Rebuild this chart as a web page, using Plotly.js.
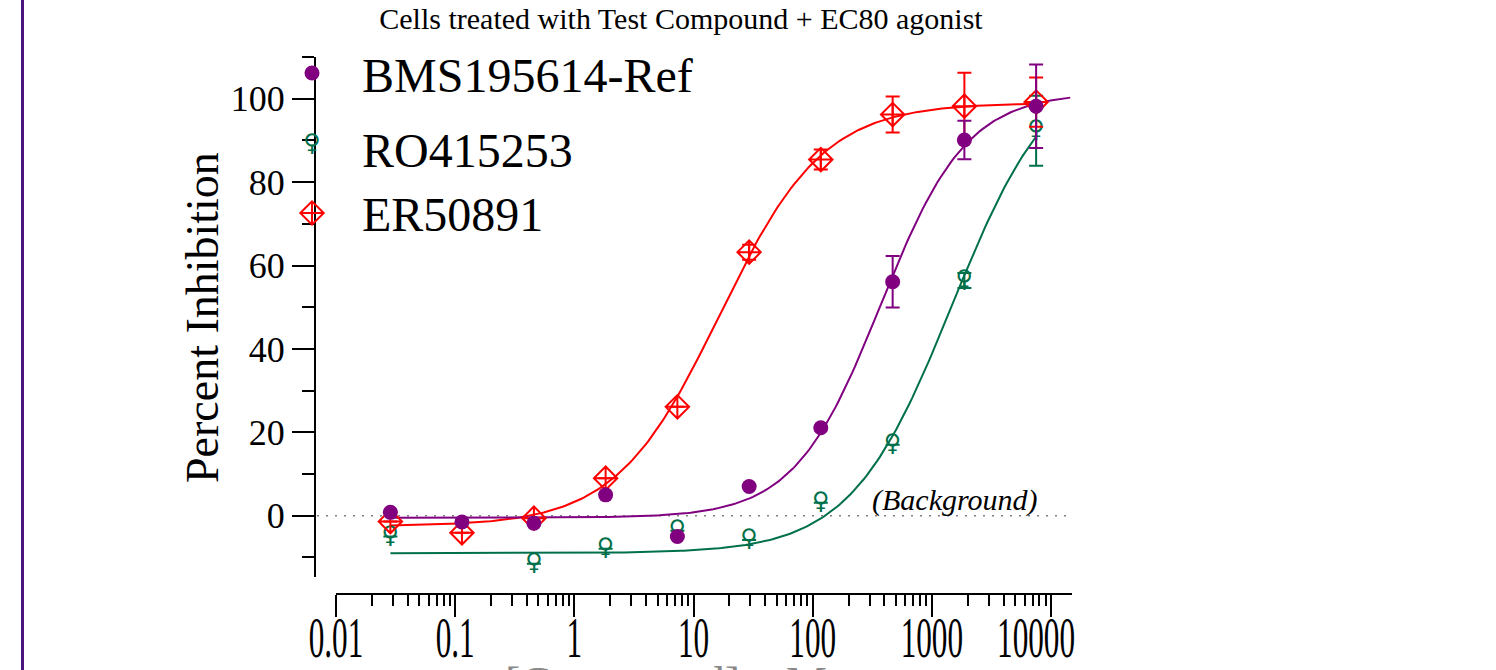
<!DOCTYPE html>
<html>
<head>
<meta charset="utf-8">
<script src="https://cdn.plot.ly/plotly-3.0.1.min.js"></script>
<style>
  html, body { margin: 0; padding: 0; background: #ffffff; }
  #chart { width: 1496px; height: 670px; }
</style>
</head>
<body>
<div id="chart"></div>
<script>
// Concentration-response data (4-fold dilution series, nM)
const concentrations = [0.0286, 0.114, 0.458, 1.83, 7.32, 29.3, 117, 469, 1875, 7500];

const bmsMean = [0.8, -1.5, -1.8, 5.0, -5.0, 7.0, 21.1, 56.1, 90.1, 98.2];
const bmsErr  = [null, null, null, null, null, null, null, 6.2, 4.6, 10.0];

const roConcentrations = [0.0286, 0.458, 1.83, 7.32, 29.3, 117, 469, 1875, 7500];
const roMean = [-5.0, -11.5, -7.9, -3.6, -5.8, 3.1, 17.0, 56.4, 92.3];
const roErr  = [null, null, null, null, null, null, null, 1.8, 8.4];

const erMean = [-1.4, -4.1, -0.6, 9.0, 26.1, 63.2, 85.4, 96.2, 98.2, 99.2];
const erErr  = [null, null, null, null, null, 1.8, 2.4, 4.3, 8.0, 5.9];

// Four-parameter logistic fits: [bottom, top, logEC50, hill]
const bmsFit = [-0.5, 101.5, 2.57, 1.2];
const roFit  = [-9.0, 110.0, 3.17, 1.02];
const erFit  = [-2.5, 99.0, 1.22, 1.0];

const seriesNames = ['BMS195614-Ref', 'RO415253', 'ER50891'];
const xTickVals = [0.01, 0.1, 1, 10, 100, 1000, 10000];
const xTickText = ['0.01', '0.1', '1', '10', '100', '1000', '10000'];
const yTickVals = [0, 20, 40, 60, 80, 100];
const yMinorVals = [-10, 10, 30, 50, 70, 90, 110];

const PURPLE = '#800080';
const GREEN = '#00704a';
const RED = '#ff0000';
const SERIF = 'Liberation Serif, Times New Roman, serif';

const W = 1496, H = 670;
const fx = p => p / W;
const fy = p => 1 - p / H;

function logistic(fit, x) {
  const [bottom, top, logEC50, hill] = fit;
  return bottom + (top - bottom) / (1 + Math.pow(10, (logEC50 - Math.log10(x)) * hill));
}
function fitCurve(fit, xMin, xMax) {
  const xs = [], ys = [];
  const a = Math.log10(xMin), b = Math.log10(xMax), n = 240;
  for (let i = 0; i <= n; i++) {
    const x = Math.pow(10, a + (b - a) * i / n);
    xs.push(x);
    ys.push(logistic(fit, x));
  }
  return { xs, ys };
}

const minorX = [];
for (let e = -2; e <= 4; e++) {
  for (let m = 2; m <= 9; m++) minorX.push(m * Math.pow(10, e));
}

const bmsCurve = fitCurve(bmsFit, concentrations[0], 14500);
const roCurve  = fitCurve(roFit, roConcentrations[0], roConcentrations[roConcentrations.length - 1]);
const erCurve  = fitCurve(erFit, concentrations[0], concentrations[concentrations.length - 1]);

const errStyle = (arr, color) => ({
  type: 'data', array: arr, visible: true, color: color, thickness: 2, width: 7
});

const traces = [
  { x: roCurve.xs, y: roCurve.ys, mode: 'lines', line: { color: GREEN, width: 2 }, hoverinfo: 'skip' },
  { x: erCurve.xs, y: erCurve.ys, mode: 'lines', line: { color: RED, width: 2 }, hoverinfo: 'skip' },
  { x: bmsCurve.xs, y: bmsCurve.ys, mode: 'lines', line: { color: PURPLE, width: 2 }, hoverinfo: 'skip' },
  {
    name: seriesNames[1], x: roConcentrations, y: roMean, mode: 'text',
    text: roConcentrations.map(() => '\u2640'), textposition: 'middle center',
    textfont: { family: 'DejaVu Sans', size: 24, color: GREEN },
    error_y: errStyle(roErr, GREEN), cliponaxis: false
  },
  {
    name: seriesNames[2], x: concentrations, y: erMean, mode: 'markers',
    marker: { symbol: 'diamond-cross-open', size: 18, color: RED, opacity: 1, line: { width: 2, color: RED } },
    error_y: errStyle(erErr, RED), cliponaxis: false
  },
  {
    name: seriesNames[0], x: concentrations, y: bmsMean, mode: 'markers',
    marker: { symbol: 'circle', size: 15, color: PURPLE, opacity: 1 },
    error_y: errStyle(bmsErr, PURPLE), cliponaxis: false
  },
  // legend swatches, drawn on a pixel-space overlay
  {
    x: [312], y: [73], xaxis: 'x2', yaxis: 'y2', mode: 'markers',
    marker: { symbol: 'circle', size: 15, color: PURPLE, opacity: 1 },
    cliponaxis: false, hoverinfo: 'skip'
  },
  {
    x: [312], y: [213], xaxis: 'x2', yaxis: 'y2', mode: 'markers',
    marker: { symbol: 'diamond-cross-open', size: 18, color: RED, opacity: 1, line: { width: 2, color: RED } },
    cliponaxis: false, hoverinfo: 'skip'
  },
  {
    x: [312], y: [145], xaxis: 'x2', yaxis: 'y2', mode: 'text', text: ['\u2640'],
    textfont: { family: 'DejaVu Sans', size: 24, color: GREEN }, cliponaxis: false, hoverinfo: 'skip'
  }
];

const layout = {
  width: W, height: H,
  margin: { l: 0, r: 0, t: 0, b: 0 },
  paper_bgcolor: '#ffffff', plot_bgcolor: 'rgba(0,0,0,0)',
  showlegend: false,
  title: {
    text: 'Cells treated with Test Compound + EC80 agonist',
    x: fx(681), xanchor: 'center', y: fy(18), yanchor: 'middle',
    font: { family: SERIF, size: 30, color: '#000' }
  },
  xaxis: {
    type: 'log', domain: [fx(336), fx(1072)], range: [-2, Math.log10(15000)],
    anchor: 'free', position: fy(594),
    showline: true, linecolor: '#000', linewidth: 2,
    ticks: 'outside', ticklen: 22, tickwidth: 2, tickcolor: '#000',
    tickmode: 'array', tickvals: xTickVals, ticktext: xTickText,
    tickfont: { family: SERIF, size: 40, color: '#000' },
    minor: { ticks: 'outside', ticklen: 11, tickwidth: 2, tickcolor: '#000', tickmode: 'array', tickvals: minorX, showgrid: false },
    showgrid: false, zeroline: false
  },
  yaxis: {
    domain: [fy(577), fy(57)], range: [-14.7, 110],
    anchor: 'free', position: fx(315),
    showline: true, linecolor: '#000', linewidth: 2,
    ticks: 'outside', ticklen: 22, tickwidth: 2, tickcolor: '#000',
    tickmode: 'array', tickvals: yTickVals,
    tickfont: { family: SERIF, size: 36, color: '#000' },
    minor: { ticks: 'outside', ticklen: 12, tickwidth: 2, tickcolor: '#000', tickmode: 'array', tickvals: yMinorVals, showgrid: false },
    showgrid: false, zeroline: false
  },
  xaxis2: { domain: [0, 1], range: [0, W], visible: false, anchor: 'y2', fixedrange: true },
  yaxis2: { domain: [0, 1], range: [H, 0], visible: false, anchor: 'x2', fixedrange: true },
  shapes: [
    { type: 'line', xref: 'paper', yref: 'paper', x0: fx(22.5), x1: fx(22.5), y0: 0, y1: 1,
      line: { color: '#4b1580', width: 3 } },
    { type: 'line', xref: 'paper', yref: 'y', x0: fx(317), x1: fx(1067), y0: 0, y1: 0,
      line: { color: '#808080', width: 1.6, dash: '2px,7px' }, layer: 'below' }
  ],
  annotations: [
    { text: 'Percent Inhibition', xref: 'paper', yref: 'paper', x: fx(202), y: fy(318),
      textangle: -90, showarrow: false, xanchor: 'center', yanchor: 'middle',
      font: { family: SERIF, size: 46, color: '#000' } },
    { text: seriesNames[0], xref: 'paper', yref: 'paper', x: fx(360), y: fy(75), showarrow: false,
      xanchor: 'left', yanchor: 'middle', font: { family: SERIF, size: 48, color: '#000' } },
    { text: seriesNames[1], xref: 'paper', yref: 'paper', x: fx(360), y: fy(150), showarrow: false,
      xanchor: 'left', yanchor: 'middle', font: { family: SERIF, size: 48, color: '#000' } },
    { text: seriesNames[2], xref: 'paper', yref: 'paper', x: fx(360), y: fy(215), showarrow: false,
      xanchor: 'left', yanchor: 'middle', font: { family: SERIF, size: 48, color: '#000' } },
    { text: '<i>(Background)</i>', xref: 'paper', yref: 'paper', x: fx(955), y: fy(500), showarrow: false,
      xanchor: 'center', yanchor: 'middle', font: { family: SERIF, size: 30, color: '#000' } },
    { text: '[Compound], nM', xref: 'paper', yref: 'paper', x: fx(666), y: fy(656), showarrow: false,
      xanchor: 'center', yanchor: 'top', font: { family: SERIF, size: 46, color: '#888' } }
  ]
};

// Tall, narrow x tick labels: stretch each label about its baseline centre,
// lift the row slightly and nudge the last label inward.
function condenseXLabels() {
  const sx = 0.78, sy = 1.4, lift = -8;
  const labels = document.querySelectorAll('#chart .xaxislayer-above .xtick text');
  labels.forEach((el, i) => {
    const bb = el.getBBox();
    const fs = parseFloat(el.style.fontSize) || 40;
    const cx = bb.x + bb.width / 2;
    const base = bb.y + 0.891 * fs;
    const nudge = (i === labels.length - 1) ? -15 : 0;
    const t = el.getAttribute('transform') || '';
    el.setAttribute('transform',
      `${t} translate(${cx + nudge},${base + lift}) scale(${sx},${sy}) translate(${-cx},${-base})`);
  });
}

Plotly.newPlot('chart', traces, layout, { staticPlot: true, displayModeBar: false })
  .then(condenseXLabels);
</script>
</body>
</html>
